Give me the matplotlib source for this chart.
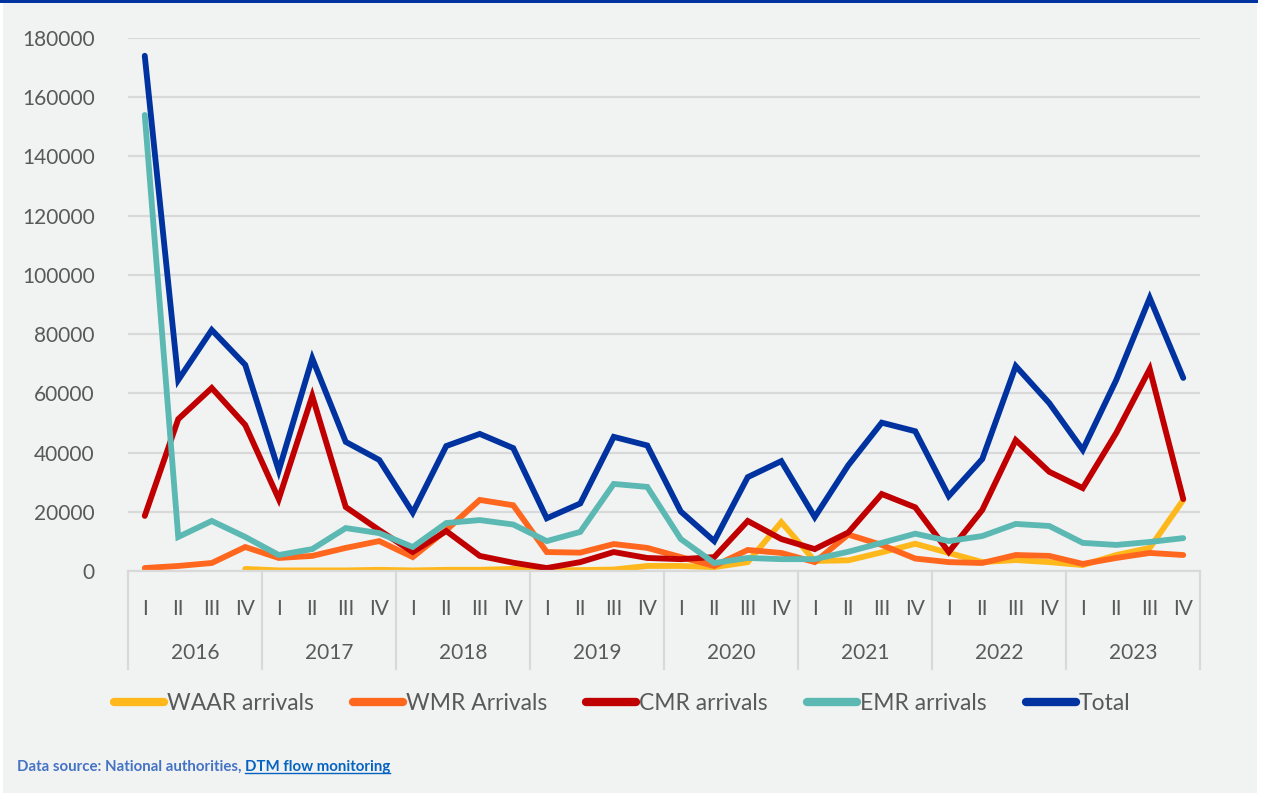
import numpy as np
import matplotlib
matplotlib.use("Agg")
import matplotlib.pyplot as plt
from matplotlib.patches import Rectangle
from matplotlib.transforms import blended_transform_factory

nan = np.nan

years = ["2016", "2017", "2018", "2019", "2020", "2021", "2022", "2023"]
quarters = ["I", "II", "III", "IV"]

# quarterly arrivals, 2016 I .. 2023 IV
waar = [nan, nan, nan, 700, 200, 200, 200, 400, 200, 400, 400, 700,
        200, 300, 500, 1700, 1700, 1300, 3000, 16500, 3400, 3600, 6300, 9200,
        6100, 3000, 3700, 3000, 2000, 5400, 7800, 24000]
wmr = [1000, 1700, 2700, 8100, 4400, 5100, 7800, 10100, 4700, 13800, 24000, 22200,
       6400, 6200, 9100, 7800, 4700, 1700, 7100, 6100, 3000, 12300, 8800, 4200,
       3000, 2700, 5400, 5100, 2400, 4400, 6100, 5400]
cmr = [18600, 51300, 61800, 49300, 24300, 59100, 21600, 13800, 6400, 13500, 5100, 2800,
       1000, 3000, 6400, 4400, 4000, 4700, 16900, 10800, 7400, 13000, 26000, 21500,
       6400, 20600, 44200, 33500, 28000, 46600, 68200, 24300]
emr = [154000, 11500, 16900, 11500, 5400, 7400, 14500, 12800, 8100, 16200, 17200, 15700,
       10100, 13200, 29400, 28400, 10800, 2700, 4400, 4000, 4000, 6500, 9500, 12600,
       10100, 11800, 15900, 15200, 9500, 8800, 9800, 11100]
total = [174000, 64500, 81400, 69600, 33900, 71800, 43600, 37500, 19700, 42200, 46300, 41500,
         17800, 22800, 45300, 42400, 20100, 10100, 31700, 37100, 18200, 35700, 50100, 47200,
         25300, 37800, 69200, 56700, 40900, 64500, 92200, 65200]

series = [
    ("WAAR arrivals", waar, "#FFB81C"),
    ("WMR Arrivals", wmr, "#FF671F"),
    ("CMR arrivals", cmr, "#C00000"),
    ("EMR arrivals", emr, "#5CB8B2"),
    ("Total", total, "#0033A0"),
]

W, H = 1261, 793
fig = plt.figure(figsize=(W / 100, H / 100), dpi=100)
fig.patch.set_facecolor("white")
fig.patches.append(Rectangle((3 / W, 0), 1254 / W, 1, transform=fig.transFigure,
                             facecolor="#F1F3F2", edgecolor="none", zorder=-10))
fig.patches.append(Rectangle((0, 1 - 2.5 / H), 1258 / W, 2.5 / H, transform=fig.transFigure,
                             facecolor="#0033A0", edgecolor="none", zorder=-9))

plt.rcParams["font.family"] = ["Lato", "DejaVu Sans"]
txt = "#595959"
grid = "#D9D9D9"

ax = fig.add_axes([128 / W, 1 - 571 / H, (1200 - 128) / W, (571 - 38) / H])
ax.set_facecolor("none")

x = np.arange(len(total))
for name, vals, col in series:
    ax.plot(x, vals, color=col, lw=4.2, label=name,
            solid_capstyle="round", solid_joinstyle="miter")

ax.set_xlim(-0.5, len(total) - 0.5)
ax.set_ylim(0, 180000)
ax.set_yticks(np.arange(0, 180001, 20000))
ax.yaxis.grid(True, color=grid, lw=1.6)
ax.set_axisbelow(True)
ax.tick_params(axis="y", length=0, pad=24, labelsize=15, labelcolor=txt)
for s in ["top", "right", "left"]:
    ax.spines[s].set_visible(False)
ax.spines["bottom"].set_color(grid)
ax.spines["bottom"].set_linewidth(1.6)

ax.set_xticks(x)
ax.set_xticklabels(quarters * len(years))
ax.tick_params(axis="x", length=0, pad=20, labelsize=15, labelcolor=txt)

tr = blended_transform_factory(ax.transData, ax.transAxes)
for i in range(len(years) + 1):
    xb = i * 4 - 0.5
    ax.plot([xb, xb], [0, -0.184], transform=tr, color=grid, lw=1.6, clip_on=False)
for i, yr in enumerate(years):
    ax.text(i * 4 + 1.5, -0.154, yr, transform=tr, ha="center", va="center",
            fontsize=15, color=txt)

leg = fig.legend(loc="center", bbox_to_anchor=(622 / W, 1 - 704 / H), ncol=5,
                 frameon=False, fontsize=16.5, handlelength=2.2, handletextpad=0.12,
                 columnspacing=1.7)
for t in leg.get_texts():
    t.set_color(txt)
for h in leg.get_lines():
    h.set_linewidth(6)
    h.set_solid_capstyle("round")

t1 = fig.text(17 / W, 1 - 767 / H, "Data source: National authorities, ", fontsize=10.8,
              fontweight="bold", color="#4472C4", va="center", ha="left")
fig.canvas.draw()
bb = t1.get_window_extent()
t2 = fig.text(bb.x1 / W, 1 - 767 / H, "DTM flow monitoring", fontsize=10.8,
              fontweight="bold", color="#0563C1", va="center", ha="left")
fig.canvas.draw()
bb2 = t2.get_window_extent()
fig.lines.append(plt.Line2D([bb2.x0 / W, bb2.x1 / W], [bb2.y0 / H + 1 / H] * 2,
                            transform=fig.transFigure, color="#0563C1", lw=1))

fig.savefig("out.png", dpi=100)
